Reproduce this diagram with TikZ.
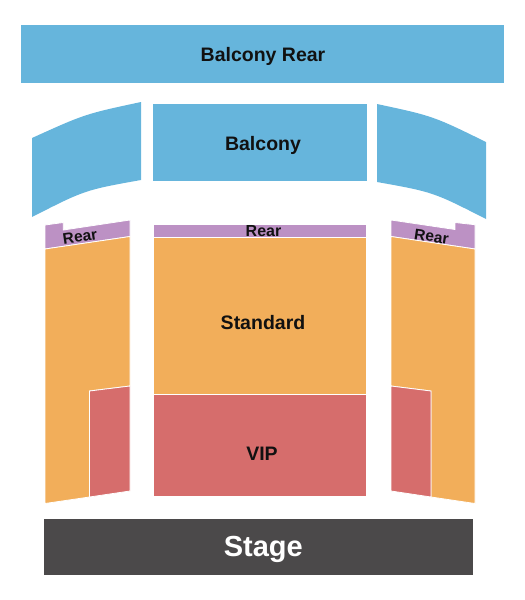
\documentclass[tikz,border=0pt]{standalone}
\usepackage{fontspec}
\setmainfont{Liberation Sans}
\definecolor{balc}{HTML}{66B5DC}
\definecolor{orng}{HTML}{F2AE5A}
\definecolor{vipc}{HTML}{D66D6C}
\definecolor{purp}{HTML}{BC91C4}
\definecolor{stg}{HTML}{4B494A}
\definecolor{txt}{HTML}{111111}
\tikzset{
  sec/.style={draw=white, line width=0.8pt},
  lbl/.style={inner sep=0pt, text=txt, font=\bfseries\fontsize{#1}{#1}\selectfont},
}
\begin{document}
\begin{tikzpicture}[x=1pt,y=-1pt]
\useasboundingbox (0,0) rectangle (525,600);
% Balcony rear
\fill[balc] (21,25) rectangle (504,82.5);
\node[lbl=19.5, anchor=base] (balrear) at (263,61.5) {Balcony Rear};
% Balcony center
\fill[balc] (153,104) rectangle (367,180.5);
\node[lbl=19.5, anchor=base] (balc) at (263,150) {Balcony};
% Balcony wings
\fill[balc] (32,138) .. controls (85,114) .. (141,102) -- (141,180)
  .. controls (85,190) .. (32,217) -- cycle;
\fill[balc] (377,104) .. controls (433,116) .. (486,142) -- (486,219)
  .. controls (433,192) .. (377,182) -- cycle;
% Left side
\fill[sec, fill=purp] (45,225) -- (63.3,222.5) -- (63.3,230) -- (130,220) -- (130,236.5) -- (45,249) -- cycle;
\fill[sec, fill=orng] (45,249) -- (130,236.5) -- (130,386) -- (89.5,391) -- (89.5,497) -- (45,503.5) -- cycle;
\fill[sec, fill=vipc] (89.5,391) -- (130,386) -- (130,491) -- (89.5,497) -- cycle;
\node[lbl=15.5, rotate=8.5] (lrear) at (80,236.5) {Rear};
% Right side
\fill[sec, fill=purp] (391,220) -- (455,229.5) -- (455,222.5) -- (475,224.7) -- (475,249) -- (391,236.5) -- cycle;
\fill[sec, fill=orng] (391,236.5) -- (475,249) -- (475,503.5) -- (431,497) -- (431,391) -- (391,386) -- cycle;
\fill[sec, fill=vipc] (391,386) -- (431,391) -- (431,497) -- (391,491) -- cycle;
\node[lbl=15.5, rotate=-8.5] (rrear) at (431.5,236.5) {Rear};
% Center
\fill[sec, fill=purp] (153,224.5) rectangle (366.5,237.2);
\node[lbl=16, anchor=base] (crear) at (263.5,236.5) {Rear};
\fill[sec, fill=orng] (153,237.2) rectangle (366.5,394.3);
\node[lbl=19.5, anchor=base] (std) at (263,329.3) {Standard};
\fill[sec, fill=vipc] (153,394.3) rectangle (366.5,496);
\node[lbl=19.5, anchor=base] (vip) at (262,460) {VIP};
% Stage
\fill[stg] (44,519) rectangle (473,574.5);
\node[lbl=29, anchor=base, text=white] (stage) at (263.3,556.7) {Stage};
\end{tikzpicture}
\end{document}
